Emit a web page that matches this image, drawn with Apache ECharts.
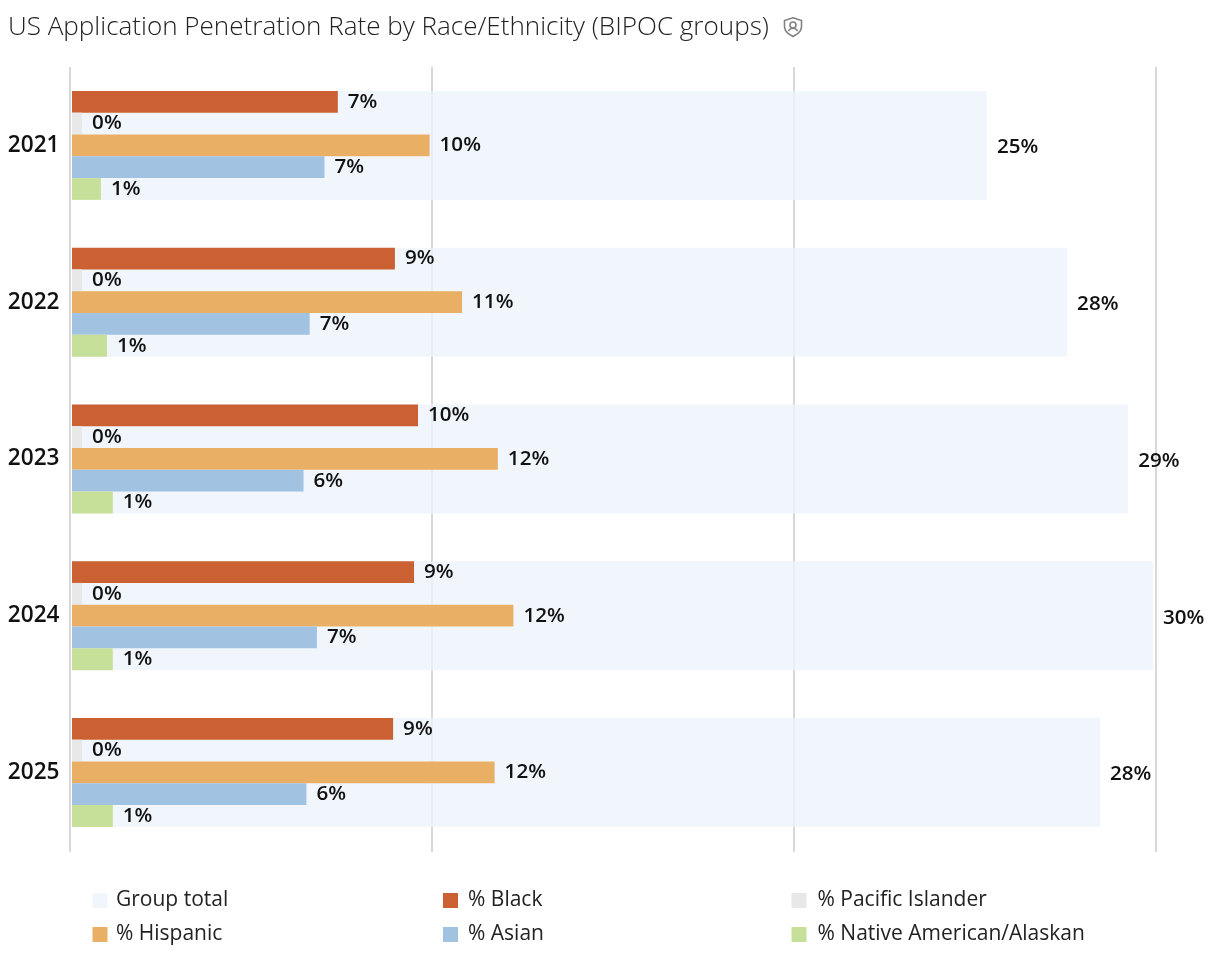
<!DOCTYPE html>
<html>
<head>
<meta charset="utf-8">
<style>html,body{margin:0;padding:0;background:#fff}#chart{width:1214px;height:959px}</style>
<script src="https://cdn.jsdelivr.net/npm/echarts@6/dist/echarts.min.js"></script>
</head>
<body>
<div id="chart"></div>
<script>
const years = ['2021', '2022', '2023', '2024', '2025'];
const groupTotal = [25.33, 27.55, 29.24, 29.93, 28.46];
const black = [7.36, 8.94, 9.58, 9.47, 8.89];
const pacificIslander = [0.28, 0.28, 0.28, 0.28, 0.28];
const hispanic = [9.9, 10.8, 11.79, 12.22, 11.7];
const asian = [6.99, 6.58, 6.41, 6.78, 6.49];
const nativeAmerican = [0.8, 0.97, 1.13, 1.13, 1.13];

const font = '"Open Sans", sans-serif';
const chart = echarts.init(document.getElementById('chart'));

function percentLabel(offsetY) {
  return {
    show: true,
    position: 'right',
    distance: 10,
    offset: [0, offsetY],
    fontFamily: font,
    fontSize: 20.6,
    fontWeight: 600,
    color: '#111',
    formatter: p => Math.round(p.value) + '%'
  };
}

function groupBar(name, values, color) {
  return {
    name, type: 'bar', data: values,
    xAxisIndex: 1, yAxisIndex: 2,
    barWidth: 21.8, barGap: 0, z: 3,
    itemStyle: { color },
    label: percentLabel(0)
  };
}

function legendColumn(left, names, textGap) {
  return {
    left, top: 884, orient: 'vertical', itemWidth: 15, itemHeight: 15, itemGap: 11,
    icon: 'rect', selectedMode: false, data: names,
    textStyle: { fontFamily: font, fontSize: 21, color: '#222', padding: [0, 0, 0, textGap], lineHeight: 23, height: 23 }
  };
}

const iconStroke = { fill: 'none', stroke: '#828282', lineWidth: 1.6 };

chart.setOption({
  animation: false,
  backgroundColor: '#fff',
  title: {
    text: 'US Application Penetration Rate by Race/Ethnicity (BIPOC groups)',
    left: 3, top: 10,
    textStyle: { fontFamily: font, fontSize: 26.05, fontWeight: 300, color: '#222' }
  },
  grid: [
    // Frame for the gridlines, set slightly left of the bars
    { left: 69.5, top: 67, width: 1086.5, height: 785 },
    // Frame for the bars
    { left: 72, top: 67, width: 1083.6, height: 783.75 }
  ],
  xAxis: [
    {
      gridIndex: 0, type: 'value', min: 0, max: 30, interval: 10,
      axisLabel: { show: false }, axisTick: { show: false }, axisLine: { show: false },
      splitLine: { show: true, lineStyle: { color: '#d8d8d8', width: 2 } }
    },
    {
      gridIndex: 1, type: 'value', min: 0, max: 30, show: false, splitLine: { show: false }
    }
  ],
  yAxis: [
    { gridIndex: 0, type: 'category', inverse: true, data: years, show: false },
    {
      gridIndex: 1, type: 'category', inverse: true, data: years,
      axisLine: { show: false }, axisTick: { show: false },
      axisLabel: { fontFamily: font, fontSize: 22.6, fontWeight: 600, color: '#111', margin: 12.5, padding: [5, 0, 0, 0] }
    },
    { gridIndex: 1, type: 'category', inverse: true, data: years, show: false }
  ],
  legend: [
    legendColumn(87.5, ['Group total', '% Hispanic'], 3.5),
    legendColumn(438, ['% Black', '% Asian'], 5),
    legendColumn(786.5, ['% Pacific Islander', '% Native American/Alaskan'], 6)
  ],
  series: [
    {
      name: 'Group total', type: 'bar', data: groupTotal,
      xAxisIndex: 1, yAxisIndex: 1,
      barWidth: 109, z: 2,
      itemStyle: { color: 'rgba(238,244,253,0.8)' },
      label: percentLabel(2)
    },
    groupBar('% Black', black, '#cb6133'),
    groupBar('% Pacific Islander', pacificIslander, '#e8e8e8'),
    groupBar('% Hispanic', hispanic, '#e9af65'),
    groupBar('% Asian', asian, '#a2c2e2'),
    groupBar('% Native American/Alaskan', nativeAmerican, '#c6e09a')
  ],
  // Privacy shield next to the title
  graphic: [
    {
      type: 'group', x: 783.5, y: 17, silent: true,
      children: [
        {
          type: 'polygon',
          shape: {
            points: [[9.5, 0.8], [18, 3.6], [18, 10], [17, 13.5], [14.5, 16.5], [9.5, 19.5], [4.5, 16.5], [2, 13.5], [1, 10], [1, 3.6]],
            smooth: 0
          },
          style: iconStroke
        },
        { type: 'circle', shape: { cx: 9.5, cy: 8, r: 3 }, style: iconStroke },
        {
          type: 'arc',
          shape: { cx: 9.5, cy: 16.5, r: 5.2, startAngle: Math.PI * 1.15, endAngle: Math.PI * 1.85, clockwise: true },
          style: iconStroke
        }
      ]
    }
  ]
});
</script>
</body>
</html>
